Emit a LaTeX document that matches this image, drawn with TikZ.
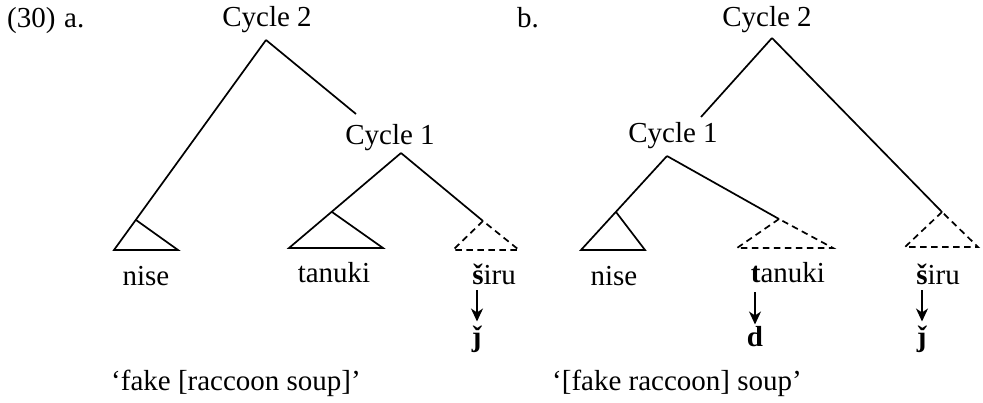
\documentclass[tikz,border=0pt]{standalone}
\usepackage{fontspec}
\setmainfont{Liberation Serif}
\usetikzlibrary{arrows.meta}
\begin{document}
\begin{tikzpicture}[x=1pt,y=-1pt,
  lbl/.style={anchor=base,inner sep=0pt,font=\fontsize{29}{34}\selectfont},
  br/.style={line width=1.7pt,line join=miter},
  dsh/.style={line width=1.7pt,dash pattern=on 6.5pt off 4.5pt},
  arr/.style={line width=1.7pt,-{Stealth[length=13pt,width=12pt,inset=4pt]}}]
\useasboundingbox (0,0) rectangle (983,403);

% ---------- panel a ----------
\node[lbl,anchor=base west] (num) at (7,28) {(30)\hspace{0.3em}a.};
\node[lbl] (a2) at (267,27) {Cycle 2};
\coordinate (a2t) at (266,40);
\coordinate (a2r) at (356,114);
\node[lbl] (a1) at (390,145) {Cycle 1};
\coordinate (a1t) at (401,153);
% nise triangle
\coordinate (anA) at (136,220);
\coordinate (anL) at (114,250);
\coordinate (anR) at (178,250);
% tanuki triangle
\coordinate (atA) at (332,212);
\coordinate (atL) at (289,248);
\coordinate (atR) at (383,248);
% siru triangle (dashed)
\coordinate (asA) at (483,221);
\coordinate (asL) at (453,250);
\coordinate (asR) at (519,250);

\draw[br] (a2t) -- (a2r);
\draw[br] (a2t) -- (anL) -- (anR) -- (anA);
\draw[br] (a1t) -- (atL) -- (atR) -- (atA);
\draw[br] (a1t) -- (asA);
\draw[dsh] (asA) -- (asL) -- (asR) -- cycle;

\node[lbl] (anise) at (146,286) {nise};
\node[lbl] (atan) at (334,283) {tanuki};
\node[lbl] (asiru) at (494,285) {\textbf{š}iru};
\node[lbl] (aj) at (477,347) {\textbf{ǰ}};
\draw[arr] (aj |- asiru.south) ++(0,5) -- ++(0,31);

\node[lbl] (acap) at (236,391) {‘fake [raccoon soup]’};

% ---------- panel b ----------
\node[lbl,anchor=base west] (blab) at (517,28) {b.};
\node[lbl] (b2) at (767,27) {Cycle 2};
\coordinate (b2t) at (772,38);
\coordinate (b2l) at (701,117);
\node[lbl] (b1) at (673,143) {Cycle 1};
\coordinate (b1t) at (667,156);
% nise triangle
\coordinate (bnA) at (616,212);
\coordinate (bnL) at (581,250);
\coordinate (bnR) at (645,250);
% tanuki triangle (dashed)
\coordinate (btA) at (779,219);
\coordinate (btL) at (737,248);
\coordinate (btR) at (833,248);
% siru triangle (dashed)
\coordinate (bsA) at (942,212);
\coordinate (bsL) at (905,247);
\coordinate (bsR) at (978,247);

\draw[br] (b2t) -- (b2l);
\draw[br] (b2t) -- (bsA);
\draw[dsh] (bsA) -- (bsL) -- (bsR) -- cycle;
\draw[br] (b1t) -- (bnL) -- (bnR) -- (bnA);
\draw[br] (b1t) -- (btA);
\draw[dsh] (btA) -- (btL) -- (btR) -- cycle;

\node[lbl] (bnise) at (614,286) {nise};
\node[lbl] (btan) at (788,283) {\textbf{t}anuki};
\node[lbl] (bsiru) at (938,285) {\textbf{š}iru};
\node[lbl] (bd) at (755,347) {\textbf{d}};
\node[lbl] (bj) at (922,347) {\textbf{ǰ}};
\draw[arr] (bd |- btan.south) ++(0,9) -- ++(0,32);
\draw[arr] (bj |- bsiru.south) ++(0,5) -- ++(0,31);

\node[lbl] (bcap) at (677,391) {‘[fake raccoon] soup’};
\end{tikzpicture}
\end{document}
